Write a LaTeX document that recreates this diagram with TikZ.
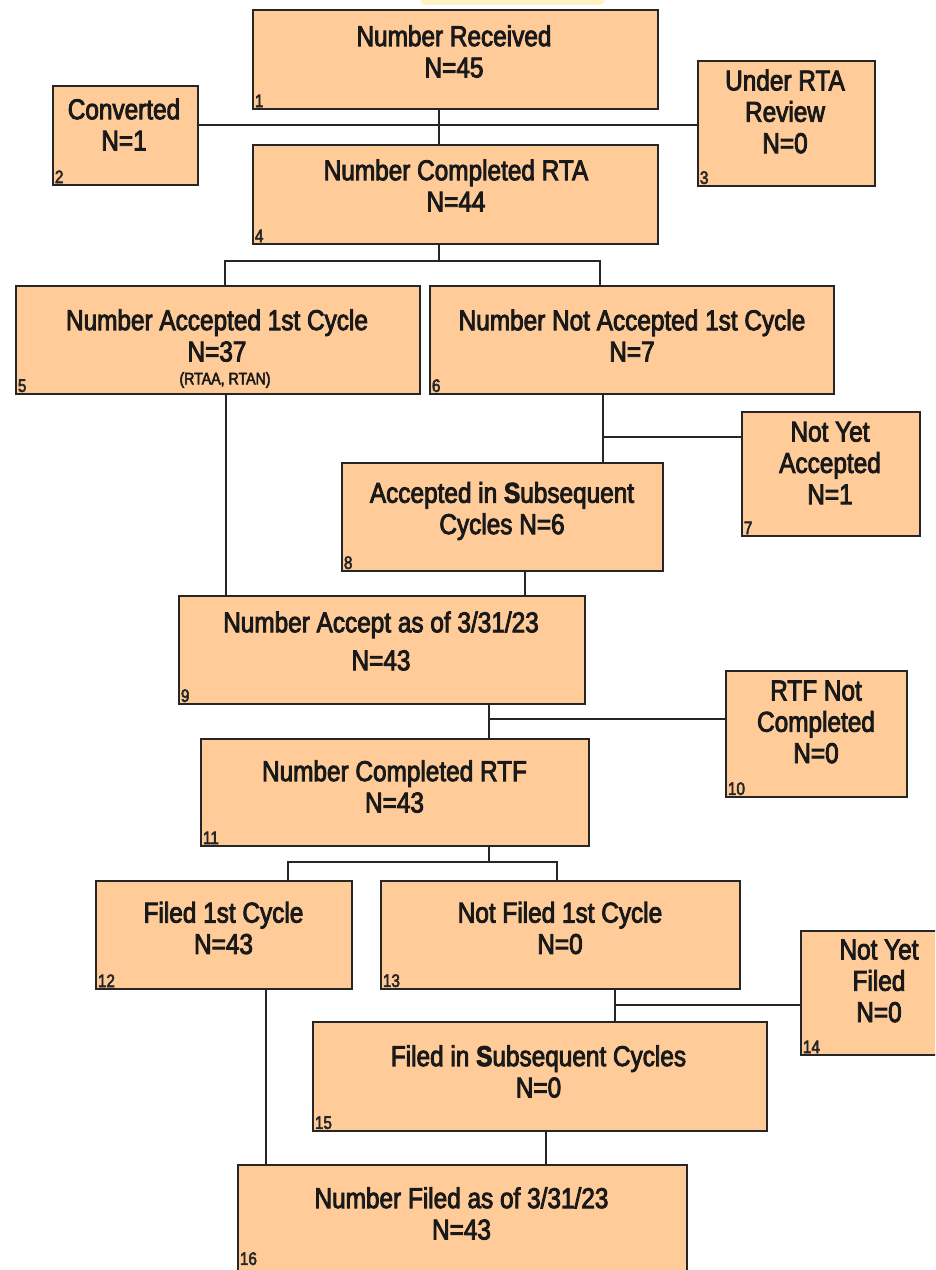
\documentclass[tikz,border=0pt]{standalone}
\usepackage{fontspec}
\setmainfont{Liberation Sans}[FakeStretch=0.85, FakeBold=3]
\definecolor{peach}{HTML}{FFCC99}
\definecolor{edge}{HTML}{262626}
\definecolor{note}{HTML}{FFF3C4}
\tikzset{
  box/.style={draw=edge, line width=1.5pt, fill=peach, anchor=north west, inner sep=0pt},
  sz/.style 2 args={minimum width=#1*0.75pt, minimum height=#2*0.75pt},
  txt/.style={align=center, inner sep=0pt, text=black!90,
              font=\fontsize{21.5}{23.5}\selectfont},
  num/.style={anchor=south west, inner sep=2pt, text=black!85,
              font=\fontsize{13.5}{13.5}\selectfont},
  conn/.style={draw=edge, line width=1.2pt}
}
\begin{document}
\begin{tikzpicture}[x=0.75pt, y=-0.75pt]
\useasboundingbox (0,0) rectangle (935,1270);
\clip (0,0) rectangle (935,1270);
\fill[white] (0,0) rectangle (935,1270);
% highlight tab at the top edge
\fill[note, rounded corners=4pt] (420,-10) rectangle (605,5);

% boxes
\node[box, sz={405}{99}]  (b1)  at (252,9)    {};
\node[box, sz={145}{99}]  (b2)  at (52,85)    {};
\node[box, sz={177}{125}] (b3)  at (697,60)   {};
\node[box, sz={405}{99}]  (b4)  at (252,144)  {};
\node[box, sz={404}{108}] (b5)  at (15,285)   {};
\node[box, sz={404}{108}] (b6)  at (429,285)  {};
\node[box, sz={178}{124}] (b7)  at (741,411)  {};
\node[box, sz={321}{108}] (b8)  at (341,462)  {};
\node[box, sz={406}{108}] (b9)  at (178,595)  {};
\node[box, sz={181}{126}] (b10) at (725,670)  {};
\node[box, sz={388}{107}] (b11) at (200,738)  {};
\node[box, sz={256}{108}] (b12) at (95,880)   {};
\node[box, sz={359}{108}] (b13) at (380,880)  {};
\node[box, sz={145}{124}] (b14) at (800,930)  {};
\node[box, sz={454}{109}] (b15) at (312,1021) {};
\node[box, sz={449}{130}] (b16) at (237,1164) {};

% box texts
\node[txt] (t1)  at (454,51.5)   {Number Received\\N=45};
\node[txt] (t2)  at (124,124.5)  {Converted\\N=1};
\node[txt] (t3)  at (785,111.5)  {Under RTA\\Review\\N=0};
\node[txt] (t4)  at (456,185.5)  {Number Completed RTA\\N=44};
\node[txt] (t5)  at (217,335.5)  {Number Accepted 1st Cycle\\N=37};
\node[txt, font=\fontsize{12.5}{12.5}\selectfont] (t5b) at (225,380) {(RTAA, RTAN)};
\node[txt] (t6)  at (632,335.5)  {Number Not Accepted 1st Cycle\\N=7};
\node[txt] (t7)  at (830,463)    {Not Yet\\Accepted\\N=1};
\node[txt] (t8)  at (502,511)    {Accepted in \textbf{S}ubsequent\\Cycles N=6};
\node[txt] (t9)  at (381,641)    {Number Accept as of 3/31/23\\[5pt]N=43};
\node[txt] (t10) at (816,722)    {RTF Not\\Completed\\N=0};
\node[txt] (t11) at (394.5,786.5){Number Completed RTF\\N=43};
\node[txt] (t12) at (223.5,928)  {Filed 1st Cycle\\N=43};
\node[txt] (t13) at (560,928)    {Not Filed 1st Cycle\\N=0};
\node[txt] (t14) at (879,981)    {Not Yet\\Filed\\N=0};
\node[txt] (t15) at (538.5,1071.5){Filed in \textbf{S}ubsequent Cycles\\N=0};
\node[txt] (t16) at (461.5,1213.5){Number Filed as of 3/31/23\\N=43};

% box numbers
\node[num] (n1)  at (b1.south west)  {1};
\node[num] (n2)  at (b2.south west)  {2};
\node[num] (n3)  at (b3.south west)  {3};
\node[num] (n4)  at (b4.south west)  {4};
\node[num] (n5)  at (b5.south west)  {5};
\node[num] (n6)  at (b6.south west)  {6};
\node[num] (n7)  at (b7.south west)  {7};
\node[num] (n8)  at (b8.south west)  {8};
\node[num] (n9)  at (b9.south west)  {9};
\node[num] (n10) at (b10.south west) {10};
\node[num] (n11) at (b11.south west) {11};
\node[num] (n12) at (b12.south west) {12};
\node[num] (n13) at (b13.south west) {13};
\node[num] (n14) at (b14.south west) {14};
\node[num] (n15) at (b15.south west) {15};
\node[num, yshift=21pt] (n16) at (b16.south west) {16};

% junction points
\coordinate (j1)  at (439,125);
\coordinate (j2)  at (439,261);
\coordinate (j2l) at (225,261);
\coordinate (j2r) at (600,261);
\coordinate (j3)  at (603,437);
\coordinate (j4)  at (226,0);
\coordinate (j5)  at (525,0);
\coordinate (j6)  at (489,719);
\coordinate (j7)  at (489,862);
\coordinate (j7l) at (288,862);
\coordinate (j7r) at (557,862);
\coordinate (j8)  at (615,1005);
\coordinate (j9)  at (266,0);
\coordinate (j10) at (546,0);

% connectors
\draw[conn] (b1.south -| j1) -- (b4.north -| j1);
\draw[conn] (b2.east |- j1) -- (b3.west |- j1);
\draw[conn] (b4.south -| j2) -- (j2);
\draw[conn] (b5.north -| j2l) -- (j2l) -- (j2r) -- (b6.north -| j2r);
\draw[conn] (b6.south -| j3) -- (b8.north -| j3);
\draw[conn] (j3) -- (b7.west |- j3);
\draw[conn] (b5.south -| j4) -- (b9.north -| j4);
\draw[conn] (b8.south -| j5) -- (b9.north -| j5);
\draw[conn] (b9.south -| j6) -- (b11.north -| j6);
\draw[conn] (j6) -- (b10.west |- j6);
\draw[conn] (b11.south -| j7) -- (j7);
\draw[conn] (b12.north -| j7l) -- (j7l) -- (j7r) -- (b13.north -| j7r);
\draw[conn] (b13.south -| j8) -- (b15.north -| j8);
\draw[conn] (j8) -- (b14.west |- j8);
\draw[conn] (b12.south -| j9) -- (b16.north -| j9);
\draw[conn] (b15.south -| j10) -- (b16.north -| j10);
\end{tikzpicture}
\end{document}
